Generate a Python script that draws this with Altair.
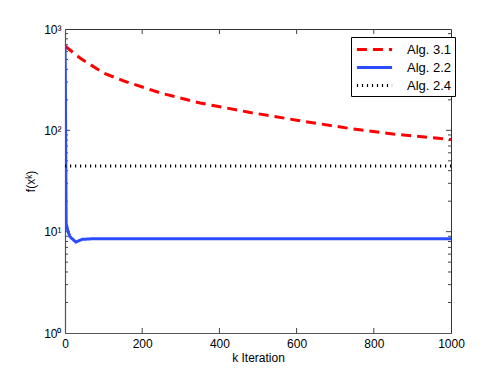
import altair as alt
import pandas as pd

# ---- data ----
red_k = [0, 40, 100, 150, 250, 350, 480, 600, 740, 850, 1000]
red_f = [680, 513, 368, 309, 232, 186, 150, 126, 104, 92, 81]
blue_k = [0, 1, 2, 3, 8, 13, 28, 45, 70, 1000]
blue_f = [680, 300, 50, 12, 10, 8.9, 7.9, 8.4, 8.5, 8.5]
black_k = [0, 1000]
black_f = [44.5, 44.5]
series_names = ["Alg. 3.1", "Alg. 2.2", "Alg. 2.4"]

x_ticks = [0, 200, 400, 600, 800, 1000]
y_major = [1, 10, 100, 1000]
y_minor = [m * d for d in (1, 10, 100) for m in range(2, 10)]

W, H = 386, 304

rows = []
for name, ks, fs in zip(series_names, [red_k, blue_k, black_k], [red_f, blue_f, black_f]):
    for k, f in zip(ks, fs):
        rows.append({"k": k, "f": f, "alg": name})
df = pd.DataFrame(rows)

xs = alt.Scale(domain=[0, 1000], nice=False, zero=False)
ys = alt.Scale(type="log", domain=[1, 1000], nice=False)

lines = alt.Chart(df).mark_line(clip=True).encode(
    x=alt.X("k:Q", scale=xs, title="k Iteration",
            axis=alt.Axis(values=x_ticks, ticks=False, grid=False, labelPadding=5,
                          titlePadding=3, format="d", labelFlush=False)),
    y=alt.Y("f:Q", scale=ys, title="f(xᵏ)",
            axis=alt.Axis(values=y_major, ticks=False, grid=False, labelPadding=4,
                          titlePadding=6, labelFlush=False,
                          labelExpr="datum.value == 1 ? '10⁰' : datum.value == 10 ? '10¹' : datum.value == 100 ? '10²' : '10³'")),
    color=alt.Color("alg:N", sort=series_names, title=None,
                    scale=alt.Scale(domain=series_names, range=["#ff0000", "#2b4cff", "#000000"]),
                    legend=alt.Legend(orient="none", legendX=286, legendY=8,
                                      symbolType="M-2.2,0H2.2", symbolSize=256,
                                      labelFontSize=13, labelFont="Liberation Sans", labelColor="#000",
                                      strokeColor="#000", fillColor="#fff", padding=3,
                                      rowPadding=1, symbolOffset=11, labelOffset=23, cornerRadius=0)),
    strokeDash=alt.StrokeDash("alg:N", sort=series_names, title=None,
                              scale=alt.Scale(domain=series_names, range=[[10, 6], [1, 0], [1.2, 3.8]])),
    strokeWidth=alt.StrokeWidth("alg:N", sort=series_names, title=None,
                                scale=alt.Scale(domain=series_names, range=[3, 3, 1.4])),
    order=alt.Order("k:Q"),
)

xt = pd.DataFrame({"k": x_ticks[1:-1]})
ymj = pd.DataFrame({"f": y_major[1:-1]})
ymn = pd.DataFrame({"f": y_minor})
tc = "#444"

tick_layers = [
    alt.Chart(xt).mark_rule(color=tc, strokeWidth=1).encode(x=alt.X("k:Q", scale=xs), y=alt.value(H), y2=alt.value(H - 5)),
    alt.Chart(xt).mark_rule(color=tc, strokeWidth=1).encode(x=alt.X("k:Q", scale=xs), y=alt.value(0), y2=alt.value(5)),
    alt.Chart(ymj).mark_rule(color=tc, strokeWidth=1).encode(y=alt.Y("f:Q", scale=ys), x=alt.value(0), x2=alt.value(5)),
    alt.Chart(ymj).mark_rule(color=tc, strokeWidth=1).encode(y=alt.Y("f:Q", scale=ys), x=alt.value(W), x2=alt.value(W - 5)),
    alt.Chart(ymn).mark_rule(color=tc, strokeWidth=1).encode(y=alt.Y("f:Q", scale=ys), x=alt.value(0), x2=alt.value(3)),
    alt.Chart(ymn).mark_rule(color=tc, strokeWidth=1).encode(y=alt.Y("f:Q", scale=ys), x=alt.value(W), x2=alt.value(W - 3)),
]

chart = alt.layer(*tick_layers, lines).properties(
    width=W, height=H,
    autosize=alt.AutoSizeParams(type="none"),
    padding={"left": 57, "top": 21, "right": 30, "bottom": 30},
    background="white",
).configure_view(stroke="#333", strokeWidth=1).configure_axis(
    domainColor="#555", domainWidth=1.2, labelFont="Liberation Sans", titleFont="Liberation Sans",
    labelFontSize=12, titleFontSize=12, labelColor="#000", titleColor="#000", titleFontWeight="normal",
)

chart.save("out.html", embed_options={"renderer": "svg", "actions": False})
